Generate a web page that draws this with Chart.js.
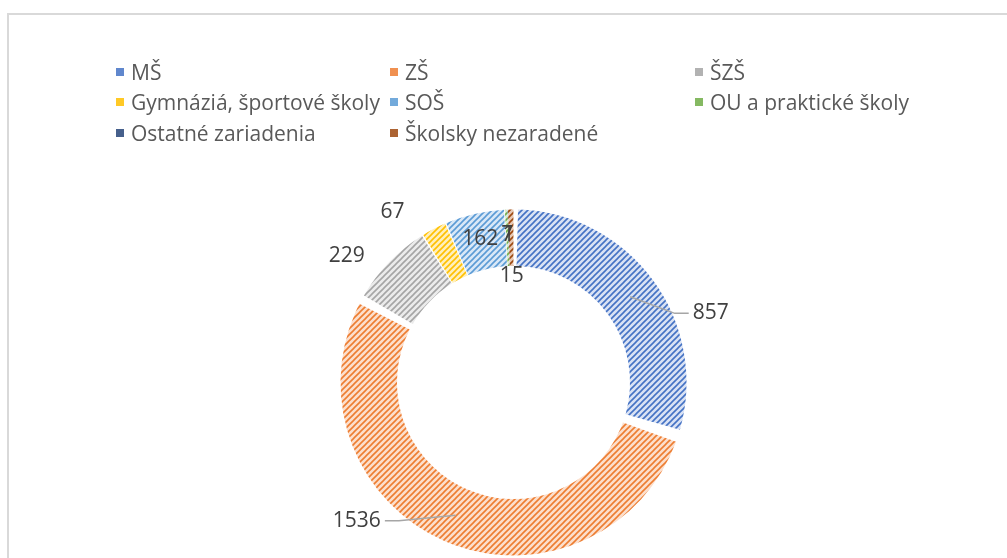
<!DOCTYPE html>
<html>
<head>
<meta charset="utf-8">
<script src="https://cdn.jsdelivr.net/npm/chart.js@4.4.1/dist/chart.umd.min.js"></script>
<style>
  html, body { margin: 0; padding: 0; background: #fff; overflow: hidden; width: 1007px; height: 558px; }
  #frame { position: absolute; left: 7px; top: 13px; width: 1100px; height: 700px; border: 2px solid #d9d9d9; box-sizing: border-box; }
  #wrap { position: absolute; left: 0; top: 0; width: 1007px; height: 640px; }
  #legend { position: absolute; left: 0; top: 0; font-family: "Open Sans"; font-size: 21px; color: #595959; }
  .item { position: absolute; white-space: nowrap; line-height: 1; transform: translateY(-50%); }
  .box { position: absolute; width: 8px; height: 8px; transform: translateY(-50%); }
</style>
</head>
<body>
<div id="frame"></div>
<div id="wrap"><canvas id="schoolChart" width="1007" height="640"></canvas></div>
<div id="legend"></div>

<script>
// Data
const categories = ['MŠ', 'ZŠ', 'ŠZŠ', 'Gymnáziá, športové školy', 'SOŠ', 'OU a praktické školy', 'Ostatné zariadenia', 'Školsky nezaradené'];
const counts = [857, 1536, 229, 67, 162, 7, 1, 15];

// Office colours: line colour + light tint for the hatch
const lineColors = ['#4472C4', '#ED7D31', '#A5A5A5', '#FFC000', '#5B9BD5', '#70AD47', '#264478', '#9E480E'];
const tintColors = ['#d9e2f4', '#fcdfcc', '#ebebeb', '#ffefbb', '#d9e8f7', '#daebd0', '#c2cadd', '#e6c8b4'];

// where each value label sits (best fit like Excel)
const labelPlace = [
    { mode: 'out', nudge: 17, leader: true },
    { mode: 'out', nudge: 25, leader: true },
    { mode: 'out', nudge: -7 },
    { mode: 'out', nudge: -8 },
    { mode: 'in' },
    { mode: 'in' },
    { mode: 'in' },
    { mode: 'hole' }
];

// Hatch pattern (upward diagonal)
function hatch(tint, line) {
    const c = document.createElement('canvas');
    c.width = 6; c.height = 6;
    const g = c.getContext('2d');
    g.fillStyle = tint;
    g.fillRect(0, 0, 6, 6);
    g.strokeStyle = line;
    g.lineWidth = 1.6;
    g.beginPath();
    g.moveTo(-1, 7); g.lineTo(7, -1);
    g.moveTo(-1, 1); g.lineTo(1, -1);
    g.moveTo(5, 7); g.lineTo(7, 5);
    g.stroke();
    return g.createPattern(c, 'repeat');
}

// Legend (3 columns like the Excel one)
const legendCols = [131, 405, 710];
const legendRows = [72, 102, 133];
const legend = document.getElementById('legend');
categories.forEach((name, i) => {
    const x = legendCols[i % 3], y = legendRows[Math.floor(i / 3)];
    const box = document.createElement('div');
    box.className = 'box';
    box.style.left = (x - 15) + 'px';
    box.style.top = y + 'px';
    box.style.background = lineColors[i];
    box.style.opacity = 0.85;
    const txt = document.createElement('div');
    txt.className = 'item';
    txt.style.left = x + 'px';
    txt.style.top = y + 'px';
    txt.textContent = name;
    legend.appendChild(box);
    legend.appendChild(txt);
});

// Value labels with leader lines
const sliceLabels = {
    id: 'sliceLabels',
    afterDatasetsDraw(chart) {
        const ctx = chart.ctx;
        const meta = chart.getDatasetMeta(0);
        const ds = chart.data.datasets[0];
        ctx.save();
        ctx.font = '21px "Open Sans"';
        ctx.textAlign = 'center';
        ctx.textBaseline = 'middle';
        meta.data.forEach((arc, i) => {
            const p = arc.getProps(['x', 'y', 'startAngle', 'endAngle', 'innerRadius', 'outerRadius'], true);
            const mid = (p.startAngle + p.endAngle) / 2;
            const place = labelPlace[i];
            const a = mid + (place.nudge || 0) * Math.PI / 180;
            let r;
            if (place.mode === 'out') r = p.outerRadius + 40;
            else if (place.mode === 'in') r = (p.innerRadius + p.outerRadius) / 2 + 7;
            else r = p.innerRadius - 6;
            const tx = p.x + Math.cos(a) * r;
            const ty = p.y + Math.sin(a) * r;
            const text = String(ds.data[i]);
            const w = ctx.measureText(text).width;
            if (place.leader) {
                const rm = (p.innerRadius + p.outerRadius) / 2 + 4;
                const sx = p.x + Math.cos(mid) * rm;
                const sy = p.y + Math.sin(mid) * rm;
                const side = tx > p.x ? -1 : 1;
                const edge = tx + side * (w / 2 + 4);
                ctx.strokeStyle = '#a6a6a6';
                ctx.lineWidth = 1.5;
                ctx.beginPath();
                ctx.moveTo(sx, sy);
                ctx.lineTo(edge + side * 14, ty);
                ctx.lineTo(edge, ty);
                ctx.stroke();
            }
            ctx.fillStyle = '#404040';
            ctx.fillText(text, tx, ty);
        });
        ctx.restore();
    }
};

const ctx = document.getElementById('schoolChart').getContext('2d');
new Chart(ctx, {
    type: 'doughnut',
    data: {
        labels: categories,
        datasets: [{
            data: counts,
            backgroundColor: categories.map((c, i) => hatch(tintColors[i], lineColors[i])),
            borderWidth: 0,
            spacing: 8
        }]
    },
    options: {
        responsive: false,
        animation: false,
        cutout: '66.6%',
        layout: { padding: { left: 340.5, right: 320.5, top: 209.5, bottom: 84.5 } },
        plugins: {
            legend: { display: false },
            tooltip: { enabled: false }
        }
    },
    plugins: [sliceLabels]
});
</script>
</body>
</html>
